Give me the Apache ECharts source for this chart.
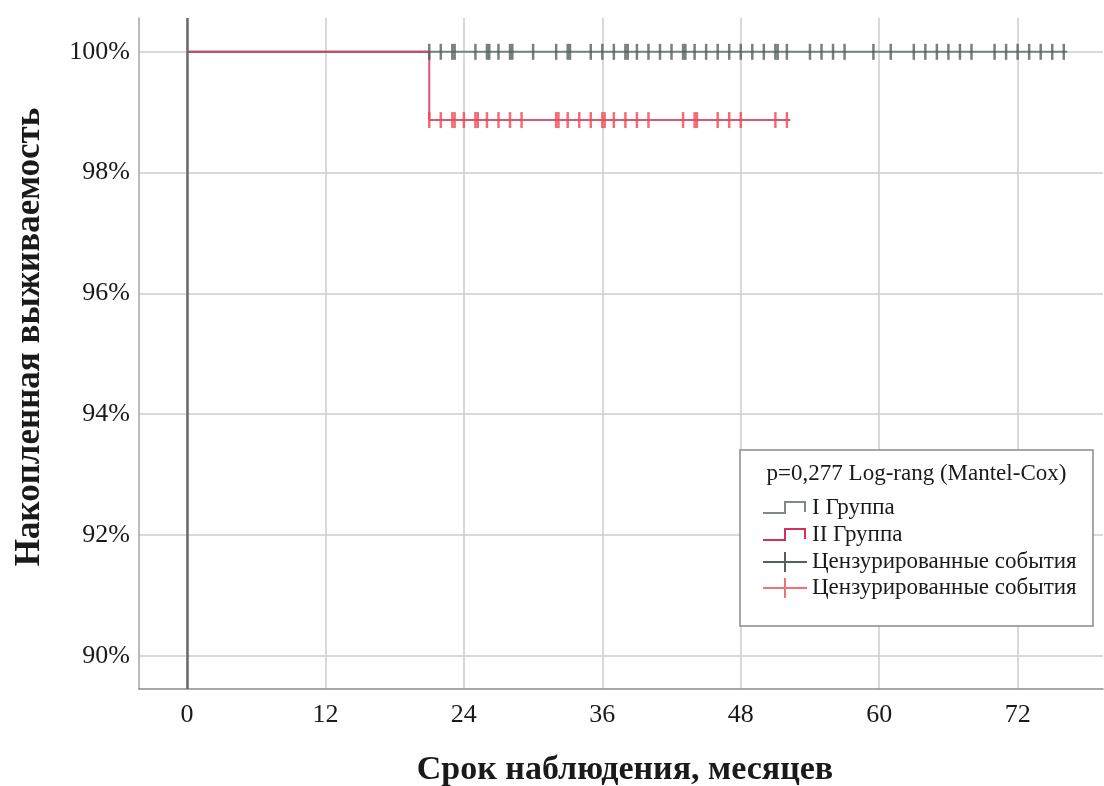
<!DOCTYPE html>
<html>
<head>
<meta charset="utf-8">
<script src="https://cdn.jsdelivr.net/npm/echarts@6/dist/echarts.min.js"></script>
<style>
html,body{margin:0;padding:0;background:#fff;}
#chart{width:1104px;height:786px;}
</style>
</head>
<body>
<div id="chart"></div>
<script>
// ---- data ----
const xTicks = [0, 12, 24, 36, 48, 60, 72];
const yTicks = [90, 92, 94, 96, 98, 100];

const group1Times = [0, 76.3];
const group1Surv = [100, 100];
const group2Times = [0, 21, 52.3];
const group2Surv = [100, 98.87, 98.87];

const group1Censored = [21, 22, 23, 23.2, 25, 26, 26.2, 27, 28, 28.2, 30, 32, 33, 33.2, 35, 36, 37, 38, 38.2, 39, 40, 41, 42, 43, 43.2, 44, 45, 46, 47, 48, 49, 50, 51, 51.2, 52, 54, 55, 56, 57, 59.5, 61, 63, 64, 65, 66, 67, 68, 70, 71, 72, 73, 74, 75, 76];
const group2Censored = [21, 22, 23, 23.2, 24, 25, 25.2, 26, 27, 28, 29, 32, 32.2, 33, 34, 35, 36, 36.2, 37, 38, 39, 40, 43, 44, 44.2, 46, 47, 48, 51, 52];

const legendTitle = 'p=0,277 Log-rang (Mantel-Cox)';
const legendNames = ['I Группа', 'II Группа', 'Цензурированные события', 'Цензурированные события'];
const xTitle = 'Срок наблюдения, месяцев';
const yTitle = 'Накопленная выживаемость';

// ---- helpers ----
function survAt(times, surv, t) {
  let s = surv[0];
  for (let i = 0; i < times.length; i++) { if (times[i] <= t) s = surv[i]; }
  return s;
}
const zip = (a, b) => a.map((v, i) => [v, b[i]]);

const serif = 'Liberation Serif, Times New Roman, serif';
const C = {
  grid: '#cdcdcd', zero: '#6a6a6a', g1: '#77827f', g2: '#d43a60', c1: '#55605b', c2: '#ef4a52'
};

const chart = echarts.init(document.getElementById('chart'));

// legend graphic
const LX = 740, LY = 450, LW = 353, LH = 176;
const rowY = [508, 535, 562, 588];
function stepIcon(y, color) {
  return { type: 'polyline', shape: { points: [[763, y + 5], [785, y + 5], [785, y - 6], [805, y - 6], [805, y + 4]] }, style: { stroke: color, lineWidth: 2, fill: null } };
}
function crossIcon(y, color) {
  return [
    { type: 'line', shape: { x1: 763, y1: y, x2: 807, y2: y }, style: { stroke: color, lineWidth: 2 } },
    { type: 'line', shape: { x1: 785, y1: y - 10, x2: 785, y2: y + 10 }, style: { stroke: color, lineWidth: 2 } }
  ];
}
const legendElems = [
  { type: 'rect', shape: { x: LX, y: LY, width: LW, height: LH }, style: { fill: '#fff', stroke: '#8a8a8a', lineWidth: 1.5 }, z: 100 },
  { type: 'text', x: LX + LW / 2, y: 474, style: { text: legendTitle, font: '23px ' + serif, fill: '#1a1a1a', align: 'center', verticalAlign: 'middle' }, z: 101 },
  Object.assign(stepIcon(rowY[0], '#7f8a88'), { z: 101 }),
  Object.assign(stepIcon(rowY[1], '#d2325a'), { z: 101 })
].concat(crossIcon(rowY[2], C.c1).map(e => Object.assign(e, { z: 101 })))
 .concat(crossIcon(rowY[3], '#f27078').map(e => Object.assign(e, { z: 101 })))
 .concat(legendNames.map((n, i) => ({ type: 'text', x: 812, y: rowY[i], style: { text: n, font: '23px ' + serif, fill: '#1a1a1a', align: 'left', verticalAlign: 'middle' }, z: 101 })));

const option = {
  animation: false,
  backgroundColor: '#fff',
  grid: { left: 139, right: 1, top: 18, bottom: 97 },
  xAxis: {
    type: 'value', min: -4.16, max: 79.4,
    axisLine: { show: true, onZero: false, lineStyle: { color: '#8c8c8c', width: 1.5 } },
    axisTick: { show: false, customValues: xTicks },
    splitLine: { show: true, lineStyle: { color: C.grid, width: 1.5 } },
    axisLabel: { customValues: xTicks, fontFamily: serif, fontSize: 26, color: '#1a1a1a', margin: 13 }
  },
  yAxis: {
    type: 'value', min: 89.45, max: 100.56,
    axisLine: { show: true, onZero: false, lineStyle: { color: '#a5a5a5', width: 1.5 } },
    axisTick: { show: false, customValues: yTicks },
    splitLine: { show: true, lineStyle: { color: C.grid, width: 1.5 } },
    axisLabel: { customValues: yTicks, formatter: v => Math.round(v) + '%', fontFamily: serif, fontSize: 26, color: '#1a1a1a', margin: 9 }
  },
  graphic: [
    { type: 'text', x: 30, y: 337, rotation: Math.PI / 2, style: { text: yTitle, font: 'bold 35px ' + serif, fill: '#1a1a1a', align: 'center', verticalAlign: 'middle' } },
    { type: 'text', x: 625, y: 770, style: { text: xTitle, font: 'bold 34px ' + serif, fill: '#1a1a1a', align: 'center', verticalAlign: 'middle' } }
  ].concat(legendElems),
  series: [
    {
      type: 'line', data: [], silent: true, z: 1,
      markLine: {
        silent: true, symbol: ['none', 'none'], label: { show: false },
        lineStyle: { color: C.zero, width: 2.5, type: 'solid' },
        data: [{ xAxis: 0 }]
      }
    },
    {
      name: legendNames[0], type: 'line', step: 'end', data: zip(group1Times, group1Surv),
      symbol: 'none', lineStyle: { color: C.g1, width: 2 }, z: 3
    },
    {
      name: legendNames[1], type: 'line', step: 'end', data: zip(group2Times, group2Surv),
      symbol: 'none', lineStyle: { color: C.g2, width: 2, opacity: 0.85 }, z: 4
    },
    {
      type: 'scatter', data: group1Censored.map(t => [t, survAt(group1Times, group1Surv, t)]),
      symbol: 'rect', symbolSize: [2.5, 16], itemStyle: { color: C.c1 }, z: 5
    },
    {
      type: 'scatter', data: group2Censored.map(t => [t, survAt(group2Times, group2Surv, t)]),
      symbol: 'rect', symbolSize: [2.5, 16], itemStyle: { color: C.c2 }, z: 6
    }
  ]
};
chart.setOption(option);
</script>
</body>
</html>
